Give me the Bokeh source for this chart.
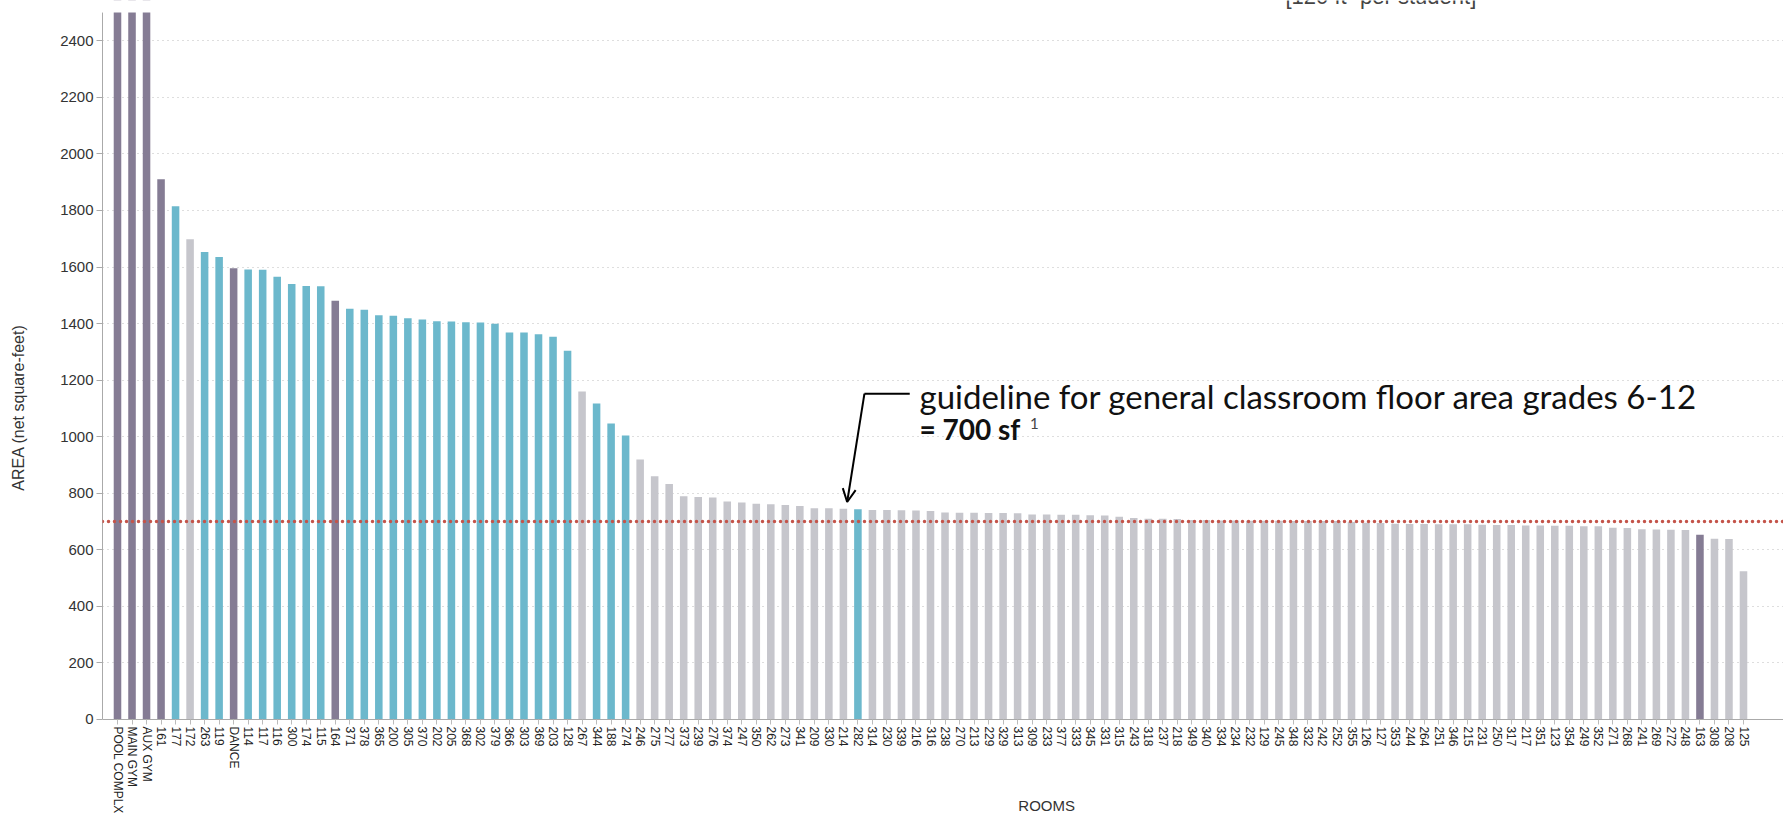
from bokeh.plotting import figure
from bokeh.models import Range1d, FixedTicker, Span, Label, Arrow, OpenHead, ColumnDataSource, BoxAnnotation
from bokeh.embed import file_html
from bokeh.resources import INLINE

# ---- data ----
rooms = ["POOL COMPLX", "MAIN GYM", "AUX GYM", "161", "177", "172", "263", "119", "DANCE", "114",
         "117", "116", "300", "174", "115", "164", "371", "378", "365", "200",
         "305", "370", "202", "205", "368", "302", "379", "366", "303", "369",
         "203", "128", "267", "344", "188", "274", "246", "275", "277", "373",
         "239", "276", "374", "247", "350", "262", "273", "341", "209", "330",
         "214", "282", "314", "230", "339", "216", "316", "238", "270", "213",
         "229", "329", "313", "309", "233", "377", "333", "345", "331", "315",
         "243", "318", "237", "218", "349", "340", "334", "234", "232", "129",
         "245", "348", "332", "242", "252", "355", "126", "127", "353", "244",
         "264", "251", "346", "215", "231", "250", "317", "217", "351", "123",
         "354", "249", "352", "271", "268", "241", "269", "272", "248", "163",
         "308", "208", "125"]

area = [9000, 8000, 4000, 1910, 1815, 1698, 1653, 1635, 1596, 1591,
        1590, 1566, 1540, 1533, 1532, 1481, 1452, 1449, 1429, 1428,
        1419, 1414, 1408, 1407, 1405, 1404, 1399, 1368, 1368, 1362,
        1353, 1304, 1160, 1117, 1047, 1004, 919, 860, 833, 789,
        787, 785, 771, 767, 763, 761, 758, 755, 747, 747,
        745, 743, 741, 741, 740, 739, 737, 732, 731, 731,
        730, 730, 729, 725, 725, 724, 724, 722, 721, 717,
        712, 710, 710, 709, 705, 705, 704, 704, 703, 703,
        703, 702, 702, 702, 702, 698, 696, 695, 692, 691,
        691, 690, 690, 690, 689, 688, 688, 686, 686, 685,
        685, 683, 683, 678, 677, 673, 672, 671, 670, 653,
        639, 638, 524]

# room type: P = gym/special (purple), C = classroom (blue), O = other (gray)
room_type = (["P", "P", "P", "P", "C", "O", "C", "C", "P"] + ["C"] * 6 + ["P"] + ["C"] * 16
             + ["O"] + ["C"] * 3 + ["O"] * 15 + ["C"] + ["O"] * 57 + ["P"] + ["O"] * 3)

guideline = 700
y_ticks = list(range(0, 2401, 200))
y_max = 2500

type_colors = {"P": "#857c94", "C": "#6cb8cc", "O": "#c6c6cc"}

n = len(rooms)
xs = list(range(n))
src = ColumnDataSource(dict(x=xs, top=area, room=rooms,
                            color=[type_colors[t] for t in room_type]))

p = figure(width=1783, height=814, output_backend="svg", toolbar_location=None,
           x_range=Range1d(-1.033, 114.755), y_range=Range1d(-336.1, 2542.5),
           min_border_left=102, min_border_right=0, min_border_top=0, min_border_bottom=0)
p.outline_line_color = None
p.background_fill_color = "white"

p.vbar(x="x", top="top", bottom=0, width=0.52, color="color", line_color=None, source=src)

# chart area ends at y_max: mask anything above it
p.add_layout(BoxAnnotation(bottom=y_max, fill_color="white", fill_alpha=1.0, line_color=None))

# grid
p.xgrid.grid_line_color = None
p.ygrid.ticker = FixedTicker(ticks=y_ticks[1:])
p.ygrid.grid_line_color = "#bdbdbd"
p.ygrid.grid_line_dash = "1 4"
p.ygrid.grid_line_width = 1

# y axis
p.yaxis.ticker = FixedTicker(ticks=y_ticks)
p.yaxis.bounds = (0, y_max)
p.yaxis.axis_label = "AREA (net square-feet)"
p.yaxis.axis_label_text_font = "Liberation Sans"
p.yaxis.axis_label_text_font_style = "normal"
p.yaxis.axis_label_text_font_size = "16px"
p.yaxis.axis_label_text_color = "#333333"
p.yaxis.axis_label_standoff = 30
p.yaxis.major_label_text_font = "Liberation Sans"
p.yaxis.major_label_text_font_size = "15px"
p.yaxis.major_label_text_color = "#333333"
p.yaxis.major_label_standoff = 3
p.yaxis.major_tick_out = 6
p.yaxis.major_tick_in = 0
p.yaxis.minor_tick_line_color = None
p.yaxis.axis_line_color = "#aaaaaa"
p.yaxis.major_tick_line_color = "#aaaaaa"

# x axis (sits on the zero line)
p.xaxis.fixed_location = 0
p.xaxis.ticker = FixedTicker(ticks=xs)
p.xaxis.major_label_overrides = {i: r for i, r in enumerate(rooms)}
p.xaxis.major_label_orientation = "vertical"
p.xaxis.major_label_text_font = "Liberation Sans"
p.xaxis.major_label_text_font_size = "12px"
p.xaxis.major_label_text_color = "#222222"
p.xaxis.major_label_standoff = 2
p.xaxis.major_tick_out = 5
p.xaxis.major_tick_in = 0
p.xaxis.minor_tick_line_color = None
p.xaxis.axis_line_color = "#aaaaaa"
p.xaxis.major_tick_line_color = "#bbbbbb"

# guideline
p.add_layout(Span(location=guideline, dimension="width", line_color="#c4544a",
                  line_width=3.5, line_dash="0 6", line_cap="round"))

# x axis title
p.add_layout(Label(x=64, y=-303, text="ROOMS", text_align="center", text_baseline="alphabetic",
                   text_font="Liberation Sans", text_font_size="15px", text_color="#333333"))

# partially visible note at top
p.add_layout(Label(x=80.45, y=2557, text="[120 ft² per student]", text_align="left",
                   text_baseline="alphabetic", text_font="Liberation Sans",
                   text_font_size="22px", text_color="#444444"))

# annotation
p.add_layout(Label(x=55.24, y=1143, text="guideline for general classroom floor area grades 6-12",
                   text_align="left", text_baseline="alphabetic", text_font="Lato",
                   text_font_size="33px", text_color="#111111"))
p.add_layout(Label(x=55.24, y=1026, text="= 700 sf", text_align="left", text_baseline="alphabetic",
                   text_font="Lato", text_font_style="bold", text_font_size="28px",
                   text_color="#111111"))
p.add_layout(Label(x=62.85, y=1048, text="1", text_align="left", text_baseline="alphabetic",
                   text_font="Lato", text_font_size="15px", text_color="#444444"))

p.add_layout(Arrow(x_start=54.57, y_start=1152, x_end=51.45, y_end=1152, end=None,
                   line_color="black", line_width=2))
p.add_layout(Arrow(x_start=51.45, y_start=1152, x_end=50.26, y_end=769,
                   end=OpenHead(size=13, line_width=2, line_color="black"),
                   line_color="black", line_width=2))

open("out.html", "w").write(file_html(p, INLINE))
